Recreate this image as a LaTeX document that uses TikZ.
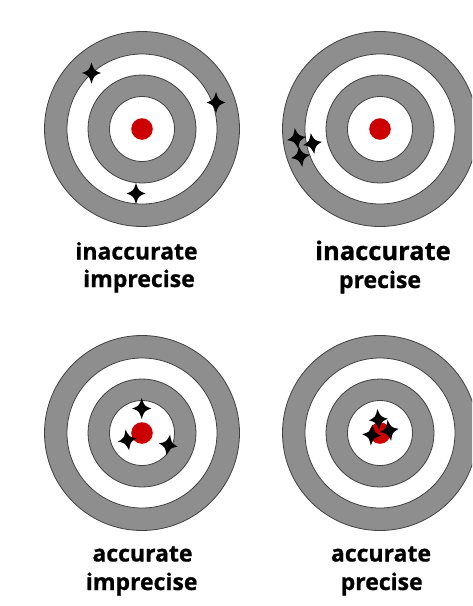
\documentclass[tikz,border=0pt]{standalone}
\usepackage{fontspec}
\setmainfont{Open Sans}[BoldFeatures={FakeBold=0.8}]
\definecolor{ringgray}{HTML}{8E8E8E}
\definecolor{ringline}{HTML}{404040}
\definecolor{bullred}{HTML}{CC0000}
\tikzset{
  ringfill/.style={fill=ringgray,draw=ringline,line width=0.8pt},
  whitefill/.style={fill=white,draw=ringline,line width=0.8pt},
  label/.style={font=\bfseries\fontsize{23}{27}\selectfont,anchor=base,inner sep=0pt},
  shot/.pic={\fill[black] (0,-10.5) .. controls (2.6,-2.6) .. (9.5,0) .. controls (2.6,2.6) .. (0,10.5) .. controls (-2.6,2.6) .. (-9.5,0) .. controls (-2.6,-2.6) .. cycle;},
  target/.pic={
    \path[ringfill] (0,0) circle (97.5);
    \path[whitefill] (0,0) circle (75);
    \path[ringfill] (0,0) circle (54);
    \path[whitefill] (0,0) circle (32.5);
    \fill[bullred] (0,0) circle (10.8);
  }
}
\begin{document}
\begin{tikzpicture}[x=1pt,y=-1pt]
\useasboundingbox (0,0) rectangle (472,606);
\clip (0,0) rectangle (472,606);
% targets
\pic at (142,129) {target};
\pic at (380,129) {target};
\pic at (142,433) {target};
\pic at (380,433) {target};
% shots: inaccurate imprecise
\pic at (91.5,73) {shot};
\pic at (216,102.5) {shot};
\pic at (136,193.5) {shot};
% inaccurate precise
\pic[rotate=10] at (296.5,138.5) {shot};
\pic[rotate=10] at (312.5,143.5) {shot};
\pic[rotate=10] at (300.5,156.5) {shot};
% accurate imprecise
\pic at (141.7,408.5) {shot};
\pic[rotate=10] at (127.3,440) {shot};
\pic[rotate=-10] at (168.3,445) {shot};
% accurate precise
\pic[rotate=5] at (378.3,419.5) {shot};
\pic[rotate=10] at (389.3,430.5) {shot};
\pic[rotate=-5] at (371.7,435) {shot};
% labels
\node[label] (l1a) at (136.5,259.5) {inaccurate};
\node[label] (l1b) at (139,287) {imprecise};
\node[label,font=\bfseries\fontsize{25.5}{29}\selectfont] (l2a) at (383,260) {inaccurate};
\node[label] (l2b) at (380,288) {precise};
\node[label] (l3a) at (142.5,561.5) {accurate};
\node[label] (l3b) at (141.7,590) {imprecise};
\node[label] (l4a) at (381,561.5) {accurate};
\node[label] (l4b) at (381.7,590) {precise};
\end{tikzpicture}
\end{document}
